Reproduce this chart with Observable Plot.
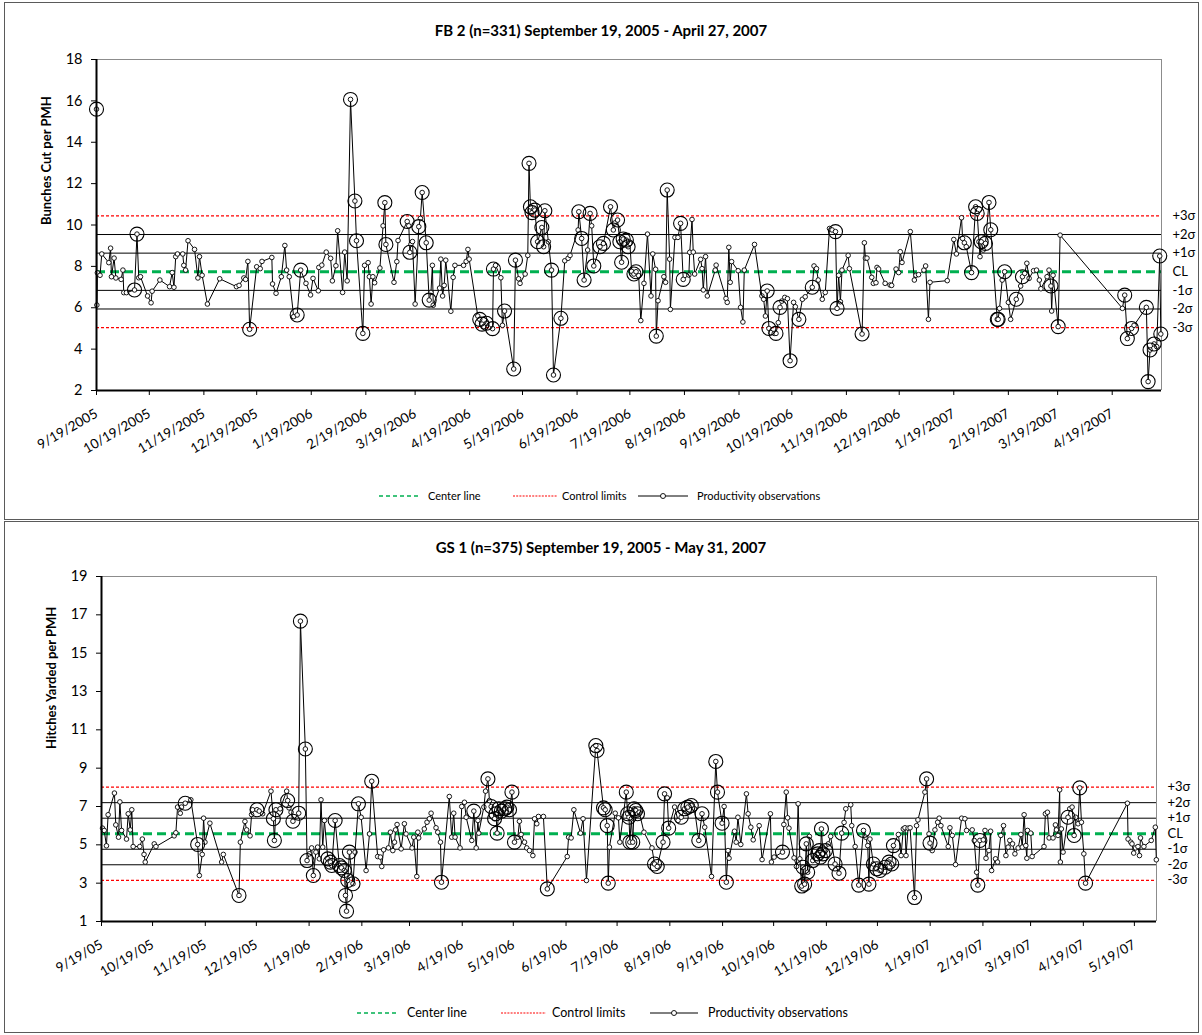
<!DOCTYPE html>
<html><head><meta charset="utf-8">
<script src="https://cdn.jsdelivr.net/npm/d3@7"></script>
<script src="https://cdn.jsdelivr.net/npm/@observablehq/plot@0.6"></script>
<style>
body{margin:0;background:#fff;font-family:Lato,"Open Sans",sans-serif;color:#000;}
#page{position:relative;width:1202px;height:1035px;overflow:hidden;background:#fff;}
.panel{position:absolute;border:1.5px solid #5a5a5a;box-sizing:border-box;}
.title{position:absolute;left:0;width:1202px;text-align:center;font-weight:bold;font-size:15px;line-height:18px;}
.chart{position:absolute;left:0;}
.lg{position:absolute;white-space:nowrap;line-height:12px;}
.lg svg{position:absolute;}
</style></head>
<body><div id="page">
<div class="panel" style="left:4px;top:2px;width:1195px;height:518px;"></div>
<div class="panel" style="left:4px;top:521px;width:1195px;height:512px;"></div>
<div class="title" style="top:21px;">FB 2 (n=331) September 19, 2005 - April 27, 2007</div>
<div class="title" style="top:538px;">GS 1 (n=375) September 19, 2005 - May 31, 2007</div>
<div id="c1" class="chart" style="top:0px;"></div>
<div id="c2" class="chart" style="top:520px;"></div>
<div id="lg1"></div>
<div id="lg2"></div>
</div>
<script>
// ---------- FB 2 data (days since 9/19/2005, bunches cut per PMH, circled flag) ----------
const fb2Days = [
0,0.2,0.5,2,3,7,8,8.5,10,11,
14,15,15.5,17,21.6,23,24,25,29,31,
31.6,36,41.5,43,44,45,46,49,49.6,50.6,
52,55.7,57.6,58.5,60,63,70,79.5,81,83.7,
84.7,86,87,91,93,94,99.6,100,102,105,
107,108,109.5,112,114,116,119,121.6,123,126,
126.3,128,130.5,133,134,136,137,139.8,141,142.4,
144.3,146.8,147.7,151.3,152.3,154.3,155,156,157,158,
161,162.8,163.8,164.4,169,170.6,171.3,176.5,177.4,178,
178.6,179.5,181,183.1,184,185,187.3,189,190,190.8,
191.3,194.9,195.6,196.6,197.5,198.4,201.3,202.6,203.6,208.5,
210,211,211.7,216.6,217.7,219,220,221.5,225,225.5,
226.7,229.7,230.6,231.8,237,238,239.8,240.6,243.5,245,
245.7,246.5,247.4,249,250.6,253,254,254.7,256.7,258.5,
259.6,263.8,266,267.9,269,273.6,274,275.6,277,279,
280.4,281.3,282.5,286,288,292,293.6,294.5,296,297.3,
298.3,299.2,301,302,303,304,305.3,306.5,308,309.2,
311,313,315,316,317.6,318,319,322.3,323.3,324.2,
325.6,326,328.6,330.3,331.8,333.3,336.5,337,338.3,339,
339.8,343.2,344,344.7,346,347,351.5,352,357.6,358.3,
359.2,360,360.8,364.5,365.9,367.2,368,373.8,378,379,
380,381,382,383,385,386,387.3,388.3,389.3,391,
392.5,394,396,397,399,401,402.6,406.6,407.6,409,
410,412.3,414,416.4,417.9,419.8,420.7,421.6,422.6,423.5,
427,427.7,434.9,436.2,436.8,437.7,440.4,441.3,442.8,443.4,
444.3,448,450.8,451.7,454.2,455.7,456.6,457.6,462.3,464.6,
465.5,467,470,471,472.6,473.5,483.3,487,488.5,491.4,
492,493,494.1,497.1,499.4,500.3,501.3,501.9,502.6,503.7,
505,507,508,511.7,512.2,513,514.5,515.9,518,519.3,
522.5,525,526,527.3,528.5,529.8,532.3,534,535.6,536.5,
540,541.1,542.2,542.6,543.4,546.3,547.4,582.8,584.1,585.6,
588,589.4,596.4,597.4,598.5,600.8,602.3,604,604.6];
const fb2Values = [
15.6,6.13,7.69,7.57,8.6,8.18,8.88,7.5,8.4,7.44,
7.37,7.82,6.73,6.73,6.86,9.56,7.45,7.5,6.57,6.24,
6.8,7.34,7.02,7.7,6.99,8.47,8.6,8.6,8.05,7.82,
9.24,8.82,7.44,8.47,7.57,6.18,7.4,7.02,7.08,7.44,
7.37,8.24,4.96,7.98,7.89,8.24,8.43,7.15,6.7,7.5,
9.01,7.82,7.5,5.57,5.65,7.82,7.18,6.62,7.42,6.82,
7.95,8.06,8.69,8.39,7.3,8.03,9.72,6.74,8.69,7.3,
16.07,11.16,9.24,4.76,8.05,8.18,7.5,6.18,7.5,7.21,
7.92,9.96,11.08,9.06,7.23,8.23,9.25,10.17,9.96,8.68,
9.06,9.2,6.18,9.92,10.32,11.57,9.14,6.37,6.74,8.05,
6.12,6.95,8.35,6.57,7.08,8.3,5.83,7.47,8.05,8.05,
8.24,8.82,8.35,5.6,5.44,5.21,5.09,5.25,4.99,7.87,
8.05,7.45,5.15,5.84,3.04,8.3,7.4,7.18,7.63,8.53,
12.98,10.88,10.6,10.72,9.19,9.88,8.95,10.69,9.19,7.82,
2.75,5.49,8.27,8.39,8.53,9.76,10.64,9.35,7.34,8.79,
10.56,9.96,8.02,8.95,9.11,10.88,9.76,10.1,10.24,9.19,
8.2,9.32,9.27,8.95,9.11,7.76,7.63,7.74,7.55,5.38,
7.18,9.56,6.57,8.6,7.86,4.63,6.34,7.5,7.23,11.69,
8.35,5.92,9.4,9.4,10.08,7.37,7.58,8.68,10.27,8.69,
7.63,8.34,7.89,6.86,8.47,6.57,7.82,8.06,6.45,6.26,
8.92,7.23,8.23,7.79,6.02,5.31,7.82,9.06,6.57,6.41,
5.6,6.81,5.0,4.8,4.76,4.76,5.28,6.02,6.32,6.5,
6.44,3.44,6.26,6.05,5.44,6.41,6.53,6.99,8.02,7.89,
7.34,6.41,6.74,9.83,9.76,9.68,5.97,7.57,6.29,7.82,
8.53,7.89,4.73,9.14,8.4,8.4,7.47,7.18,7.21,7.95,
7.87,7.18,7.1,7.08,7.87,7.7,8.71,8.19,9.68,7.34,
7.57,7.6,7.82,8.02,5.44,7.23,7.31,9.3,8.6,10.35,
9.35,9.14,8.95,7.7,10.88,10.56,9.19,8.47,9.19,8.79,
9.11,11.09,9.77,5.44,5.44,5.97,7.34,7.74,6.26,5.44,
6.41,7.05,7.5,7.66,8.15,7.42,7.79,7.82,7.34,6.92,
7.5,7.82,7.05,5.84,7.57,5.09,9.51,5.97,6.61,4.51,
5.0,5.15,6.02,2.43,3.96,4.25,4.12,8.5,4.73];
const fb2Circled = [
1,0,0,0,0,0,0,0,0,0,
0,0,0,0,1,1,0,0,0,0,
0,0,0,0,0,0,0,0,0,0,
0,0,0,0,0,0,0,0,0,0,
0,0,1,0,0,0,0,0,0,0,
0,0,0,0,1,1,0,0,0,0,
0,0,0,0,0,0,0,0,0,0,
1,1,1,1,0,0,0,0,0,0,
0,0,1,1,0,0,0,1,0,1,
0,0,0,1,0,1,1,1,0,0,
0,0,0,0,0,0,0,0,0,0,
0,0,0,0,1,1,0,1,1,1,
0,0,0,1,1,1,0,0,0,0,
1,1,1,1,1,1,1,1,0,1,
1,1,0,0,0,0,1,1,1,0,
1,0,1,1,1,1,1,0,1,1,
1,1,1,1,0,0,1,1,0,0,
0,0,0,0,0,1,0,0,0,1,
0,0,0,0,1,1,0,0,0,0,
0,0,0,0,0,0,0,0,0,0,
0,0,0,0,0,0,0,0,0,0,
0,1,1,0,0,1,0,1,0,0,
0,1,0,0,1,0,0,1,0,0,
0,0,0,0,0,1,1,0,0,0,
0,0,1,0,0,0,0,0,0,0,
0,0,0,0,0,0,0,0,0,0,
0,0,0,0,0,0,0,0,0,0,
0,1,0,1,1,1,0,0,1,0,
1,1,1,1,1,0,0,1,0,0,
1,0,1,0,0,0,0,0,0,0,
0,0,1,0,0,1,0,0,1,1,
1,0,1,1,1,1,0,1,1];
const fb2Levels = [10.44, 9.54, 8.64, 7.74, 6.84, 5.94, 5.04];
const fb2Ticks = ["9/19/2005","10/19/2005","11/19/2005","12/19/2005","1/19/2006","2/19/2006","3/19/2006","4/19/2006","5/19/2006","6/19/2006","7/19/2006","8/19/2006","9/19/2006","10/19/2006","11/19/2006","12/19/2006","1/19/2007","2/19/2007","3/19/2007","4/19/2007"];
const fb2YTicks = [2,4,6,8,10,12,14,16,18];

// ---------- GS 1 data (days since 9/19/2005, hitches yarded per PMH, circled flag) ----------
const gs1Days = [
0.6,1.6,2.9,3.9,7.6,8.4,10,10.8,11.8,14.7,
15.7,16.9,17.8,18.6,22.5,24,25,25.7,31,32,
42.7,43.7,44.7,46.3,47,49.2,52.5,56.5,57.5,59.2,
60,60.8,63.7,70.6,71.6,80.8,81.6,84.3,85.3,87.3,
88.2,88.8,91.4,92.7,94.7,99.6,101,101.6,102.5,105,
108.8,109.4,110.2,111.4,112.5,115.9,116.9,119.8,120.8,122.2,
123.5,124.5,126,127,128,129,130,131,133,134.5,
135.3,137.3,139.8,141,142.7,143.4,144,144.7,145.7,147.8,
149,151,152.6,155.5,157.5,158.8,162.3,163.9,164.7,165.8,
168.6,169.8,171.2,172.2,172.8,173.7,176.1,178,179,182.5,
183.5,185.3,185.9,186.4,189.7,191.3,192.7,193.7,196.6,197.6,
199.2,199.8,204.4,205.8,207,207.8,210.7,211.7,213.3,214.3,
217.6,218.8,220.2,221.2,221.7,224.7,225.7,227.1,228,229,
231,231.8,232.5,233.5,235,237,238.2,239.8,241.2,242.7,
244.7,245.6,246.6,248.6,249.9,251.5,253.5,254.5,255.8,256.8,
259.7,262,273.7,274.5,276,277.6,281.5,283,285,290.5,
291.2,295,296,297.2,297.8,298.5,301.9,303.8,304.6,308.4,
309.2,310,310.5,311.4,312.2,313,314,315,316,318.8,
323.5,325,326.6,330,330.9,332.5,333.3,336.8,338.8,340.7,
342.7,344.6,346.6,348.5,351,352.9,354.5,358.5,361,362,
364.7,365.9,367.2,368.2,368.8,372,373,374,375.7,379,
380,381.6,383,386.5,388.2,393.1,393.7,395.3,400.2,401,
402.4,403.2,404,407,408.4,409.4,410.4,411.5,412.3,413.2,
414.2,415,416,418,420.9,421.8,422.5,423.1,424,425.5,
427.1,428.5,431.1,433.4,435,436.4,437.4,440.3,440.9,442.9,
445,447.8,449.1,450.3,451,451.6,453.6,455.6,457.5,460.5,
462.8,464.4,465.4,468.3,469.9,471.2,472.2,472.8,474,475.2,
477.8,479,479.8,483.9,484.9,486.3,486.9,488.2,489.8,491.4,
492.3,493.3,497.6,498.6,500,501.9,505.5,507.4,508.4,511.7,
512.9,514.3,515,516.2,518.2,519.2,519.8,521.5,522.5,523.1,
525.4,526.6,528.5,530.1,531.5,532.8,533.8,535.4,536.8,538.7,
540.3,541.1,542.2,543.2,543.8,544.2,546.1,546.9,553.9,554.7,
555.9,556.9,559.2,560.6,561.2,562.1,563.1,563.5,564.1,565.1,
568,569,570.4,571.6,572.5,573.9,574.9,575.9,577.3,578.3,
602.9,603.3,604.9,605.6,606.6,607.7,609.1,610,610.6,612.6,
616.9,619.3,619.9];
const gs1Values = [
5.87,5.75,4.95,6.57,7.7,6.04,5.4,7.24,5.75,5.3,
6.62,5.78,6.83,4.91,4.91,5.3,4.5,4.1,5.05,4.91,
5.47,5.63,6.97,6.65,6.97,7.17,7.35,5.02,3.4,4.5,
6.39,5.14,6.13,4.1,4.5,2.36,5.14,6.22,5.78,5.47,
6.58,6.83,6.83,6.76,6.62,7.8,6.36,5.23,6.83,6.88,
7.8,7.31,6.93,6.7,6.23,6.65,16.67,10.0,4.18,4.53,
4.84,3.4,4.62,4.88,4.27,7.35,4.88,6.27,4.27,4.1,
3.92,6.27,3.92,3.8,3.66,2.36,1.54,3.14,4.62,2.97,
4.62,7.14,6.44,3.66,5.57,8.32,4.39,4.36,3.87,4.74,
4.84,5.66,4.7,5.14,5.78,6.06,4.79,6.1,5.57,4.84,
5.4,3.35,5.66,5.36,5.83,6.18,6.36,6.65,5.89,5.66,
5.14,3.05,7.52,5.4,6.65,5.4,4.84,7.0,7.22,6.44,
5.23,6.76,4.84,6.27,5.61,6.97,7.8,8.44,7.31,7.0,
6.36,6.62,5.61,6.88,6.76,6.88,6.97,6.83,7.75,5.14,
5.4,6.23,5.54,5.14,4.84,4.7,4.44,6.36,6.1,6.48,
6.48,2.7,4.39,5.4,5.36,6.83,5.61,6.36,3.14,10.18,
9.92,6.93,6.83,6.0,3.0,4.88,6.65,6.41,5.14,7.75,
6.62,6.44,5.14,6.36,5.14,6.88,6.79,6.62,6.7,5.66,
4.84,4.0,3.87,5.14,7.66,7.45,5.87,6.97,6.27,6.44,
6.88,6.97,7.05,6.88,5.23,6.62,5.92,3.35,9.35,7.75,
6.13,7.0,3.05,4.7,4.3,5.71,5.14,6.44,5.02,7.66,
6.62,5.92,5.26,6.0,4.23,6.62,4.1,4.36,4.62,6.06,
7.75,6.41,5.87,4.32,3.87,7.14,4.27,2.85,3.83,2.95,
5.05,3.57,5.44,4.18,4.53,4.7,4.36,5.83,4.53,4.7,
5.05,5.44,4.0,3.52,5.61,6.17,6.88,7.09,6.0,4.91,
2.9,5.75,5.4,4.96,2.95,5.3,4.0,3.75,3.66,3.83,
4.1,4.0,4.96,5.54,4.44,5.83,5.89,4.44,5.87,5.89,
2.25,6.0,6.3,7.75,8.44,5.57,5.09,4.7,5.78,6.18,
6.39,6.0,4.91,5.89,5.49,3.97,6.39,6.36,5.75,5.78,
5.23,3.57,2.9,5.23,5.26,5.75,4.3,4.7,5.71,3.66,
4.27,4.1,5.49,6.0,4.44,4.88,5.23,5.05,4.53,4.84,
5.54,4.88,6.57,4.96,4.3,5.75,5.61,4.39,4.91,6.62,
6.7,5.36,5.36,6.04,5.78,5.49,7.87,4.1,5.83,4.62,
6.44,6.88,6.97,5.49,6.44,6.1,7.97,6.18,4.53,3.0,
7.17,5.3,5.14,5.05,4.57,4.84,4.91,4.44,5.36,4.91,
5.23,5.92,4.22];
const gs1Circled = [
0,0,0,0,0,0,0,0,0,0,
0,0,0,0,0,0,0,0,0,0,
0,0,0,0,0,1,0,1,0,0,
0,0,0,0,0,1,0,0,0,0,
0,0,1,0,0,0,1,1,1,0,
0,1,0,0,1,1,1,1,1,0,
0,1,0,0,0,0,0,0,1,1,
1,1,1,1,1,1,1,1,1,1,
0,1,0,0,0,1,0,0,0,0,
0,0,0,0,0,0,0,0,0,0,
0,0,0,0,0,0,0,0,0,0,
0,1,0,0,0,0,0,0,0,0,
0,1,0,0,0,0,0,1,0,1,
1,1,1,1,1,1,1,1,1,1,
0,0,0,0,0,0,0,0,0,0,
0,1,0,0,0,0,0,0,0,1,
1,1,1,1,1,0,0,0,0,1,
1,1,1,0,1,1,1,1,0,0,
0,1,1,1,1,0,1,0,0,1,
1,1,1,0,1,1,0,0,1,1,
1,0,1,0,0,0,0,0,0,0,
0,0,0,0,0,0,0,0,1,0,
0,0,0,0,0,0,0,1,1,1,
1,1,0,1,1,1,1,1,1,1,
0,0,1,1,1,0,0,0,0,0,
1,1,0,0,1,0,1,1,1,1,
1,1,1,0,0,0,0,0,0,0,
1,0,0,0,1,0,1,0,0,0,
0,0,0,0,0,0,0,0,0,0,
0,0,1,1,0,0,0,0,0,0,
0,0,0,0,0,0,0,0,0,0,
0,0,0,0,0,0,0,0,0,0,
0,0,0,0,0,0,0,0,0,0,
1,0,0,1,0,0,1,0,0,1,
0,0,0,0,0,0,0,0,0,0,
0,0,0];
const gs1Levels = [8.01, 7.2, 6.39, 5.58, 4.77, 3.96, 3.15];
const gs1Ticks = ["9/19/05","10/19/05","11/19/05","12/19/05","1/19/06","2/19/06","3/19/06","4/19/06","5/19/06","6/19/06","7/19/06","8/19/06","9/19/06","10/19/06","11/19/06","12/19/06","1/19/07","2/19/07","3/19/07","4/19/07","5/19/07"];
const gs1YTicks = [1,3,5,7,9,11,13,15,17,19];

const levelNames = ["+3σ","+2σ","+1σ","CL","-1σ","-2σ","-3σ"];
const legendNames = ["Center line","Control limits","Productivity observations"];

function buildChart(o) {
  if (o.days.length !== o.values.length || o.days.length !== o.flags.length)
    throw new Error("length mismatch " + o.days.length + " " + o.values.length + " " + o.flags.length);
  const start = d3.utcParse(o.parseFmt)(o.tickLabels[0]);
  const t0 = start.getTime();
  const toDate = d => new Date(t0 + d * 864e5);
  const end = toDate(o.endDay);
  const data = o.days.map((d, i) => ({date: toDate(d), v: o.values[i], flag: o.flags[i]}));
  const ticks = o.tickLabels.map(d3.utcParse(o.parseFmt));
  const fmt = d3.utcFormat(o.tickFmt);
  const lv = o.levels.map((v, i) => ({v, name: levelNames[i], i}));
  return Plot.plot({
    width: 1202, height: o.height,
    marginTop: o.mt, marginBottom: o.mb, marginLeft: o.ml, marginRight: o.mr,
    x: {type: "utc", domain: [start, end]},
    y: {domain: o.yDomain},
    style: {background: "transparent", fontFamily: "Lato, 'Open Sans', sans-serif", overflow: "visible", color: "#000"},
    marks: [
      Plot.ruleY([o.yDomain[1]], {stroke: "#8c8c8c", strokeWidth: 1}),
      Plot.ruleX([end], {stroke: "#8c8c8c", strokeWidth: 1}),
      Plot.ruleY(lv.filter(d => [1, 2, 4, 5].includes(d.i)), {y: "v", stroke: "#000", strokeWidth: 1}),
      Plot.ruleY(lv.filter(d => d.i === 0 || d.i === 6), {y: "v", stroke: "#ff0000", strokeWidth: 1.2, strokeDasharray: "3,2"}),
      Plot.ruleY(lv.filter(d => d.i === 3), {y: "v", stroke: "#00b050", strokeWidth: 3, strokeDasharray: "9,5"}),
      Plot.line(data, {x: "date", y: "v", stroke: "#000", strokeWidth: 1}),
      Plot.dot(data, {x: "date", y: "v", r: 2.3, fill: "#fff", stroke: "#000", strokeWidth: 0.9}),
      Plot.dot(data.filter(d => d.flag), {x: "date", y: "v", r: 7, fill: "none", stroke: "#000", strokeWidth: 1.1}),
      Plot.axisY({ticks: o.yTicks, tickSize: 5, tickPadding: 9, fontSize: 14.5, label: null}),
      Plot.axisX({ticks, tickFormat: fmt, tickRotate: -30, tickSize: 5, tickPadding: 17, fontSize: 13.5, label: null}),
      Plot.ruleX([start], {stroke: "#000", strokeWidth: 2}),
      Plot.ruleY([o.yDomain[0]], {stroke: "#000", strokeWidth: 2}),
      Plot.text(lv, {x: () => end, y: "v", text: "name", dx: 11, textAnchor: "start", fontSize: 13}),
      Plot.text([o.yTitle], {frameAnchor: "left", dx: -50, rotate: -90, fontWeight: "bold", fontSize: 13, text: d => d})
    ]
  });
}

document.getElementById("c1").append(buildChart({
  days: fb2Days, values: fb2Values, flags: fb2Circled, levels: fb2Levels,
  tickLabels: fb2Ticks, parseFmt: "%m/%d/%Y", tickFmt: "%-m/%-d/%Y", endDay: 605,
  yDomain: [2, 18], yTicks: fb2YTicks, yTitle: "Bunches Cut per PMH",
  height: 470, mt: 59, mb: 80, ml: 96, mr: 41
}));
document.getElementById("c2").append(buildChart({
  days: gs1Days, values: gs1Values, flags: gs1Circled, levels: gs1Levels,
  tickLabels: gs1Ticks, parseFmt: "%m/%d/%y", tickFmt: "%-m/%-d/%y", endDay: 620,
  yDomain: [1, 19], yTicks: gs1YTicks, yTitle: "Hitches Yarded per PMH",
  height: 470, mt: 56, mb: 69, ml: 101, mr: 46
}));

function legend(el, y, fs, pos) {
  const root = document.getElementById(el);
  const add = (html, x) => {
    const d = document.createElement("div");
    d.className = "lg";
    d.style.left = x + "px"; d.style.top = (y - 6) + "px"; d.style.fontSize = fs + "px";
    d.innerHTML = html; root.append(d);
  };
  const sw = (w, inner) => `<svg width="${w}" height="12" style="left:0;top:0">${inner}</svg>`;
  add(sw(pos[1] - pos[0], `<line x1="0" x2="${pos[1] - pos[0]}" y1="6" y2="6" stroke="#00b050" stroke-width="1.3" stroke-dasharray="4,3"/>`), pos[0]);
  add(legendNames[0], pos[2]);
  add(sw(pos[4] - pos[3], `<line x1="0" x2="${pos[4] - pos[3]}" y1="6" y2="6" stroke="#ff0000" stroke-width="1.2" stroke-dasharray="2,1.2"/>`), pos[3]);
  add(legendNames[1], pos[5]);
  const w = pos[7] - pos[6];
  add(sw(w, `<line x1="0" x2="${w}" y1="6" y2="6" stroke="#000" stroke-width="1"/><circle cx="${w / 2}" cy="6" r="2.5" fill="#fff" stroke="#000" stroke-width="0.9"/>`), pos[6]);
  add(legendNames[2], pos[8]);
}
legend("lg1", 496, 11, [379, 419, 428, 513, 557, 562, 638, 688, 697]);
legend("lg2", 1013, 12.5, [357, 399, 407, 501, 546, 552, 650, 698, 708]);
</script>
</body></html>
